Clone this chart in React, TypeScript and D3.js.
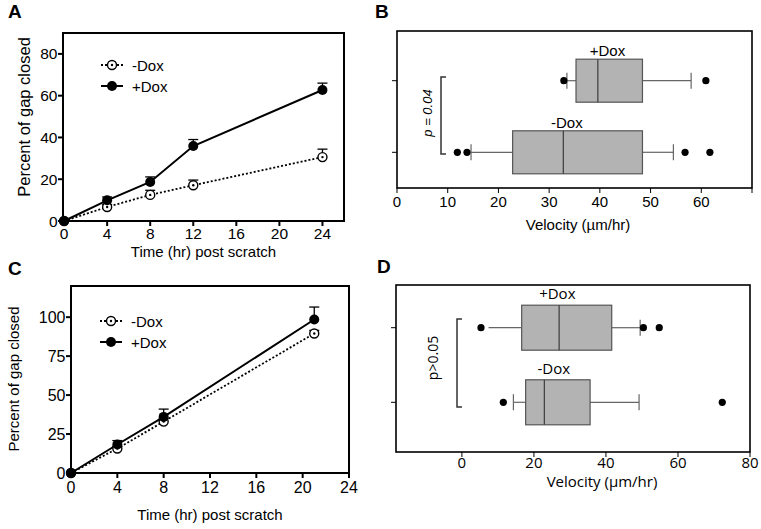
import React from "react";
import * as d3 from "d3";

// ---------- Panel A data ----------
const aTimes = [0, 4, 8, 12, 24];
const aMinus = [0, 6.7, 12.5, 17.1, 30.6];
const aMinusErr = [0, 1.2, 2.2, 2.5, 3.8];
const aPlus = [0, 9.9, 18.7, 35.9, 62.7];
const aPlusErr = [0, 1.6, 2.4, 3.1, 3.3];
const aXTicks = [0, 4, 8, 12, 16, 20, 24];
const aYTicks = [0, 20, 40, 60, 80];

// ---------- Panel C data ----------
const cTimes = [0, 4, 8, 21];
const cMinus = [0, 15.7, 33, 89.5];
const cMinusErr = [0, 1.5, 2, 2];
const cPlus = [0, 18.3, 36, 98.5];
const cPlusErr = [0, 2.5, 5, 8];
const cXTicks = [0, 4, 8, 12, 16, 20, 24];
const cYTicks = [0, 25, 50, 75, 100];

// ---------- Panel B data (box stats: whiskerLo, q1, median, q3, whiskerHi) ----------
const bGroups = ["+Dox", "-Dox"];
const bStats = [
  [33.5, 35.3, 39.6, 48.4, 58],
  [14.6, 22.8, 32.8, 48.4, 54.5],
];
const bOutliers = [
  [32.9, 60.9],
  [11.9, 13.8, 56.8, 61.7],
];
const bXTicks = [0, 10, 20, 30, 40, 50, 60, 70];
const bXTickLabels = ["0", "10", "20", "30", "40", "50", "60", ""];

// ---------- Panel D data ----------
const dGroups = ["+Dox", "-Dox"];
const dStats = [
  [7.4, 16.6, 27, 41.6, 49.5],
  [14.3, 17.7, 22.9, 35.6, 49.2],
];
const dOutliers = [
  [5.3, 50.4, 54.8],
  [11.5, 72.3],
];
const dXTicks = [0, 20, 40, 60, 80];
const dXTickLabels = ["0", "20", "40", "60", "80"];

const ARIAL = "'Liberation Sans', Arial, sans-serif";
const HUMAN = "'Open Sans', 'Noto Sans', sans-serif";

function LinePanel(props: any) {
  const { x0, x1, y0, y1, xDom, yDom, times, minus, minusErr, plus, plusErr, xTicks, yTicks, legendX, legendY, xLabelY, yLabelX, yLabelCy, yLabelSize, xTickDy, tickSize } = props;
  const x = d3.scaleLinear().domain(xDom).range([x0, x1]);
  const y = d3.scaleLinear().domain(yDom).range([y1, y0]);
  const line = d3.line<number>().x((_, i) => x(times[i])).y((d) => y(d));
  const cap = 5;
  return (
    <g>
      <rect x={x0} y={y0} width={x1 - x0} height={y1 - y0} fill="none" stroke="#000" strokeWidth={2} />
      {xTicks.map((t: number) => (
        <g key={"xt" + t}>
          <line x1={x(t)} x2={x(t)} y1={y1} y2={y1 + 5} stroke="#000" strokeWidth={2} />
          <text x={x(t)} y={y1 + xTickDy} textAnchor="middle" fontSize={tickSize} fontFamily={ARIAL}>{t}</text>
        </g>
      ))}
      {yTicks.map((t: number) => (
        <g key={"yt" + t}>
          <line x1={x0 - 5} x2={x0} y1={y(t)} y2={y(t)} stroke="#000" strokeWidth={2} />
          <text x={x0 - 5.5} y={y(t) + 5.5} textAnchor="end" fontSize={tickSize} fontFamily={ARIAL}>{t}</text>
        </g>
      ))}
      {plus.map((v: number, i: number) => plusErr[i] > 0 ? (
        <g key={"pe" + i}>
          <line x1={x(times[i])} x2={x(times[i])} y1={y(v)} y2={y(v + plusErr[i])} stroke="#000" strokeWidth={1.3} />
          <line x1={x(times[i]) - cap} x2={x(times[i]) + cap} y1={y(v + plusErr[i])} y2={y(v + plusErr[i])} stroke="#000" strokeWidth={1.3} />
        </g>
      ) : null)}
      {minus.map((v: number, i: number) => minusErr[i] > 0 ? (
        <g key={"me" + i}>
          <line x1={x(times[i])} x2={x(times[i])} y1={y(v)} y2={y(v + minusErr[i])} stroke="#000" strokeWidth={1.3} />
          <line x1={x(times[i]) - cap} x2={x(times[i]) + cap} y1={y(v + minusErr[i])} y2={y(v + minusErr[i])} stroke="#000" strokeWidth={1.3} />
        </g>
      ) : null)}
      <path d={line(minus) || ""} fill="none" stroke="#000" strokeWidth={1.8} strokeDasharray="2,2" />
      <path d={line(plus) || ""} fill="none" stroke="#000" strokeWidth={2} />
      {minus.map((v: number, i: number) => (
        <g key={"mm" + i}>
          <circle cx={x(times[i])} cy={y(v)} r={4.5} fill="#fff" stroke="#000" strokeWidth={1.4} />
          <circle cx={x(times[i])} cy={y(v)} r={1.2} fill="#000" />
        </g>
      ))}
      {plus.map((v: number, i: number) => (
        <circle key={"pm" + i} cx={x(times[i])} cy={y(v)} r={5} fill="#000" />
      ))}
      <line x1={legendX} x2={legendX + 22} y1={legendY} y2={legendY} stroke="#000" strokeWidth={1.8} strokeDasharray="2,2" />
      <circle cx={legendX + 11} cy={legendY} r={4.5} fill="#fff" stroke="#000" strokeWidth={1.4} />
      <circle cx={legendX + 11} cy={legendY} r={1.2} fill="#000" />
      <text x={legendX + 31} y={legendY + 5.5} fontSize={15} fontFamily={ARIAL}>-Dox</text>
      <line x1={legendX} x2={legendX + 22} y1={legendY + 21} y2={legendY + 21} stroke="#000" strokeWidth={2} />
      <circle cx={legendX + 11} cy={legendY + 21} r={5} fill="#000" />
      <text x={legendX + 31} y={legendY + 26.5} fontSize={15} fontFamily={ARIAL}>+Dox</text>
      <text x={(x0 + x1) / 2} y={xLabelY} textAnchor="middle" fontSize={15} fontFamily={ARIAL}>Time (hr) post scratch</text>
      <text transform={`translate(${yLabelX},${yLabelCy}) rotate(-90)`} textAnchor="middle" fontSize={yLabelSize} fontFamily={ARIAL}>Percent of gap closed</text>
    </g>
  );
}

function BoxPanel(props: any) {
  const { x0, x1, y0, y1, xDom, groups, stats, outliers, xTicks, xTickLabels, groupY, halfH, labelDy, labelX, font, capLo, bracketX, bracketY0, bracketY1, pText, pX, pY, pItalic, pSize, xLabelY, tickLabelY, frameW, xLabelX } = props;
  const x = d3.scaleLinear().domain(xDom).range([x0, x1]);
  const cap = 8;
  return (
    <g>
      <rect x={x0} y={y0} width={x1 - x0} height={y1 - y0} fill="none" stroke="#000" strokeWidth={frameW} />
      {xTicks.map((t: number, k: number) => (
        <g key={"xt" + t}>
          <line x1={x(t)} x2={x(t)} y1={y1} y2={y1 + 5} stroke="#000" strokeWidth={1} />
          <text x={x(t)} y={tickLabelY} textAnchor="middle" fontSize={15} fontFamily={font}>{xTickLabels[k]}</text>
        </g>
      ))}
      {groups.map((g: string, i: number) => {
        const cy = groupY[i];
        const [wl, q1, md, q3, wh] = stats[i];
        return (
          <g key={g}>
            <line x1={x0 - 5} x2={x0} y1={cy} y2={cy} stroke="#000" strokeWidth={1} />
            <line x1={x(wl)} x2={x(q1)} y1={cy} y2={cy} stroke="#666" strokeWidth={1.2} />
            <line x1={x(q3)} x2={x(wh)} y1={cy} y2={cy} stroke="#666" strokeWidth={1.2} />
            {capLo[i] ? <line x1={x(wl)} x2={x(wl)} y1={cy - cap} y2={cy + cap} stroke="#666" strokeWidth={1.2} /> : null}
            <line x1={x(wh)} x2={x(wh)} y1={cy - cap} y2={cy + cap} stroke="#666" strokeWidth={1.2} />
            <rect x={x(q1)} y={cy - halfH} width={x(q3) - x(q1)} height={2 * halfH} fill="#b3b3b3" stroke="#555" strokeWidth={1.2} />
            <line x1={x(md)} x2={x(md)} y1={cy - halfH} y2={cy + halfH} stroke="#444" strokeWidth={1.3} />
            {outliers[i].map((o: number, j: number) => (
              <circle key={j} cx={x(o)} cy={cy} r={3.6} fill="#000" />
            ))}
            <text x={x(labelX[i])} y={cy - halfH + labelDy} textAnchor="middle" fontSize={15} fontFamily={font}>{g}</text>
          </g>
        );
      })}
      <path d={`M${bracketX + 5},${bracketY0}H${bracketX}V${bracketY1}H${bracketX + 5}`} fill="none" stroke="#333" strokeWidth={1.5} />
      <text transform={`translate(${pX},${pY}) rotate(-90)`} textAnchor="middle" fontSize={pSize} fontStyle={pItalic ? "italic" : "normal"} fontFamily={font}>{pText}</text>
      <text x={xLabelX} y={xLabelY} textAnchor="middle" fontSize={15} fontFamily={font}>Velocity (µm/hr)</text>
    </g>
  );
}

export default function App() {
  return (
    <svg width={761} height={529} style={{ position: "absolute", left: 0, top: 0, background: "#fff" }}>
      <rect width={761} height={529} fill="#fff" />
      <text x={8} y={18} fontSize={19} fontWeight="bold" fontFamily={ARIAL}>A</text>
      <text x={375} y={18} fontSize={19} fontWeight="bold" fontFamily={ARIAL}>B</text>
      <text x={8} y={275} fontSize={19} fontWeight="bold" fontFamily={ARIAL}>C</text>
      <text x={377} y={273} fontSize={19} fontWeight="bold" fontFamily={ARIAL}>D</text>
      <LinePanel x0={63} x1={344} y0={33} y1={221} xDom={[-0.1, 26]} yDom={[0, 90]}
        times={aTimes} minus={aMinus} minusErr={aMinusErr} plus={aPlus} plusErr={aPlusErr}
        xTicks={aXTicks} yTicks={aYTicks} legendX={101} legendY={65} xLabelY={257} yLabelX={30} yLabelCy={117} yLabelSize={16.5} xTickDy={17.5} tickSize={15.5} />
      <LinePanel x0={71} x1={349} y0={286} y1={473} xDom={[0, 24]} yDom={[0, 120]}
        times={cTimes} minus={cMinus} minusErr={cMinusErr} plus={cPlus} plusErr={cPlusErr}
        xTicks={cXTicks} yTicks={cYTicks} legendX={100} legendY={321} xLabelY={520} yLabelX={19} yLabelCy={379} yLabelSize={15} xTickDy={20} tickSize={16} />
      <BoxPanel x0={397} x1={752} y0={31} y1={188} xDom={[0, 70]} groups={bGroups} stats={bStats} outliers={bOutliers}
        xTicks={bXTicks} xTickLabels={bXTickLabels} groupY={[80.7, 152.3]} halfH={21.5} labelDy={-3} labelX={[41.5, 33.5]}
        font={ARIAL} capLo={[true, true]} bracketX={441} bracketY0={77} bracketY1={154}
        pText="p = 0.04" pX={432} pY={113} pItalic={true} pSize={13} xLabelY={230} tickLabelY={207} frameW={1.6} xLabelX={578} />
      <BoxPanel x0={396} x1={750} y0={285} y1={452} xDom={[-18.3, 80]} groups={dGroups} stats={dStats} outliers={dOutliers}
        xTicks={dXTicks} xTickLabels={dXTickLabels} groupY={[327.7, 402.3]} halfH={22.5} labelDy={-6} labelX={[26.5, 25.5]}
        font={HUMAN} capLo={[false, true]} bracketX={457} bracketY0={319} bracketY1={407}
        pText="p>0.05" pX={438} pY={358} pItalic={false} pSize={14} xLabelY={487} tickLabelY={468} frameW={1.6} xLabelX={602} />
    </svg>
  );
}
